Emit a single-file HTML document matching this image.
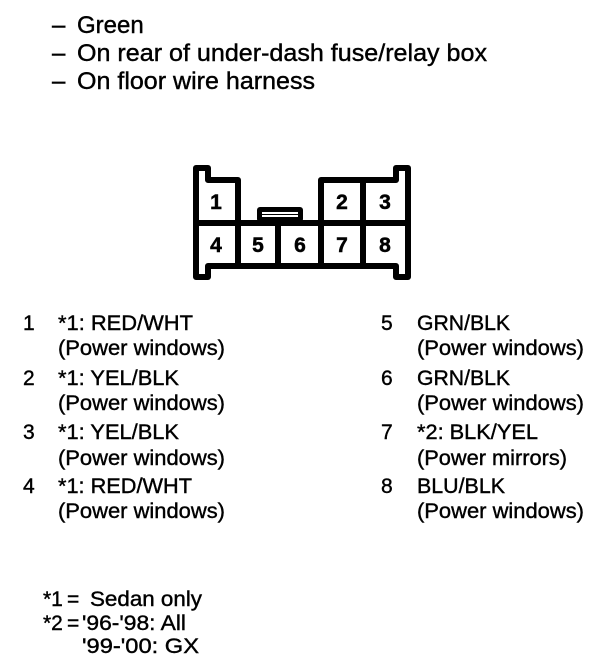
<!DOCTYPE html>
<html><head><meta charset="utf-8"><style>
html,body{margin:0;padding:0;background:#fff}
svg{display:block}
text{font-family:"Liberation Sans",sans-serif;fill:#000;font-size:21px;stroke:#000;stroke-width:.4px}
.h{font-size:24px}
.d{font-weight:bold;font-size:21px;text-anchor:middle;stroke-width:.5px}
</style></head><body>
<svg width="608" height="664" viewBox="0 0 608 664" xmlns="http://www.w3.org/2000/svg">
<rect width="608" height="664" fill="#fff"/>
<text class="h" x="52" y="33">–</text><text class="h" x="77" y="33">Green</text>
<text class="h" x="52" y="61">–</text><text class="h" x="77" y="61" textLength="410" lengthAdjust="spacingAndGlyphs">On rear of under-dash fuse/relay box</text>
<text class="h" x="52" y="89">–</text><text class="h" x="77" y="89" textLength="238" lengthAdjust="spacingAndGlyphs">On floor wire harness</text>

<g fill="none" stroke="#000" stroke-width="6" stroke-linejoin="round">
<path d="M196 222V168H208V180H238V222"/>
<path d="M321 222V180H396V168H408V222"/>
<path d="M196 222V277H208V266H396V277H408V222"/>
<path d="M196 223H408" />
<path d="M238 222V266M278 222V266M321 222V266M363 180V266"/>
</g>
<rect x="257" y="207" width="46" height="15" rx="3" fill="#000"/>
<rect x="262" y="212" width="36" height="5" fill="#fff"/>
<rect x="262" y="214" width="36" height="1" fill="#000"/>
<text class="d" x="216" y="209">1</text>
<text class="d" x="342" y="209">2</text>
<text class="d" x="385" y="209">3</text>
<text class="d" x="216" y="252">4</text>
<text class="d" x="258" y="252">5</text>
<text class="d" x="300" y="252">6</text>
<text class="d" x="342" y="252">7</text>
<text class="d" x="385" y="252">8</text>

<text x="23" y="330">1</text><text x="58" y="330" textLength="135" lengthAdjust="spacingAndGlyphs">*1: RED/WHT</text>
<text x="58" y="355" textLength="167" lengthAdjust="spacingAndGlyphs">(Power windows)</text>
<text x="23" y="385">2</text><text x="58" y="385" textLength="121" lengthAdjust="spacingAndGlyphs">*1: YEL/BLK</text>
<text x="58" y="410" textLength="167" lengthAdjust="spacingAndGlyphs">(Power windows)</text>
<text x="23" y="439">3</text><text x="58" y="439" textLength="121" lengthAdjust="spacingAndGlyphs">*1: YEL/BLK</text>
<text x="58" y="465" textLength="167" lengthAdjust="spacingAndGlyphs">(Power windows)</text>
<text x="23" y="493">4</text><text x="58" y="493" textLength="134" lengthAdjust="spacingAndGlyphs">*1: RED/WHT</text>
<text x="58" y="518" textLength="167" lengthAdjust="spacingAndGlyphs">(Power windows)</text>

<text x="381" y="330">5</text><text x="417" y="330" textLength="93" lengthAdjust="spacingAndGlyphs">GRN/BLK</text>
<text x="417" y="355" textLength="167" lengthAdjust="spacingAndGlyphs">(Power windows)</text>
<text x="381" y="385">6</text><text x="417" y="385" textLength="93" lengthAdjust="spacingAndGlyphs">GRN/BLK</text>
<text x="417" y="410" textLength="167" lengthAdjust="spacingAndGlyphs">(Power windows)</text>
<text x="381" y="439">7</text><text x="417" y="439" textLength="121" lengthAdjust="spacingAndGlyphs">*2: BLK/YEL</text>
<text x="417" y="465" textLength="150" lengthAdjust="spacingAndGlyphs">(Power mirrors)</text>
<text x="381" y="493">8</text><text x="417" y="493" textLength="88" lengthAdjust="spacingAndGlyphs">BLU/BLK</text>
<text x="417" y="518" textLength="167" lengthAdjust="spacingAndGlyphs">(Power windows)</text>

<text x="43" y="606">*1</text><text x="67" y="606">=</text><text x="90" y="606" textLength="112" lengthAdjust="spacingAndGlyphs">Sedan only</text>
<text x="43" y="630">*2</text><text x="67" y="630">=</text><text x="82" y="630" textLength="104" lengthAdjust="spacingAndGlyphs">'96-'98: All</text>
<text x="82" y="653" textLength="117" lengthAdjust="spacingAndGlyphs">'99-'00: GX</text>
</svg>
</body></html>
